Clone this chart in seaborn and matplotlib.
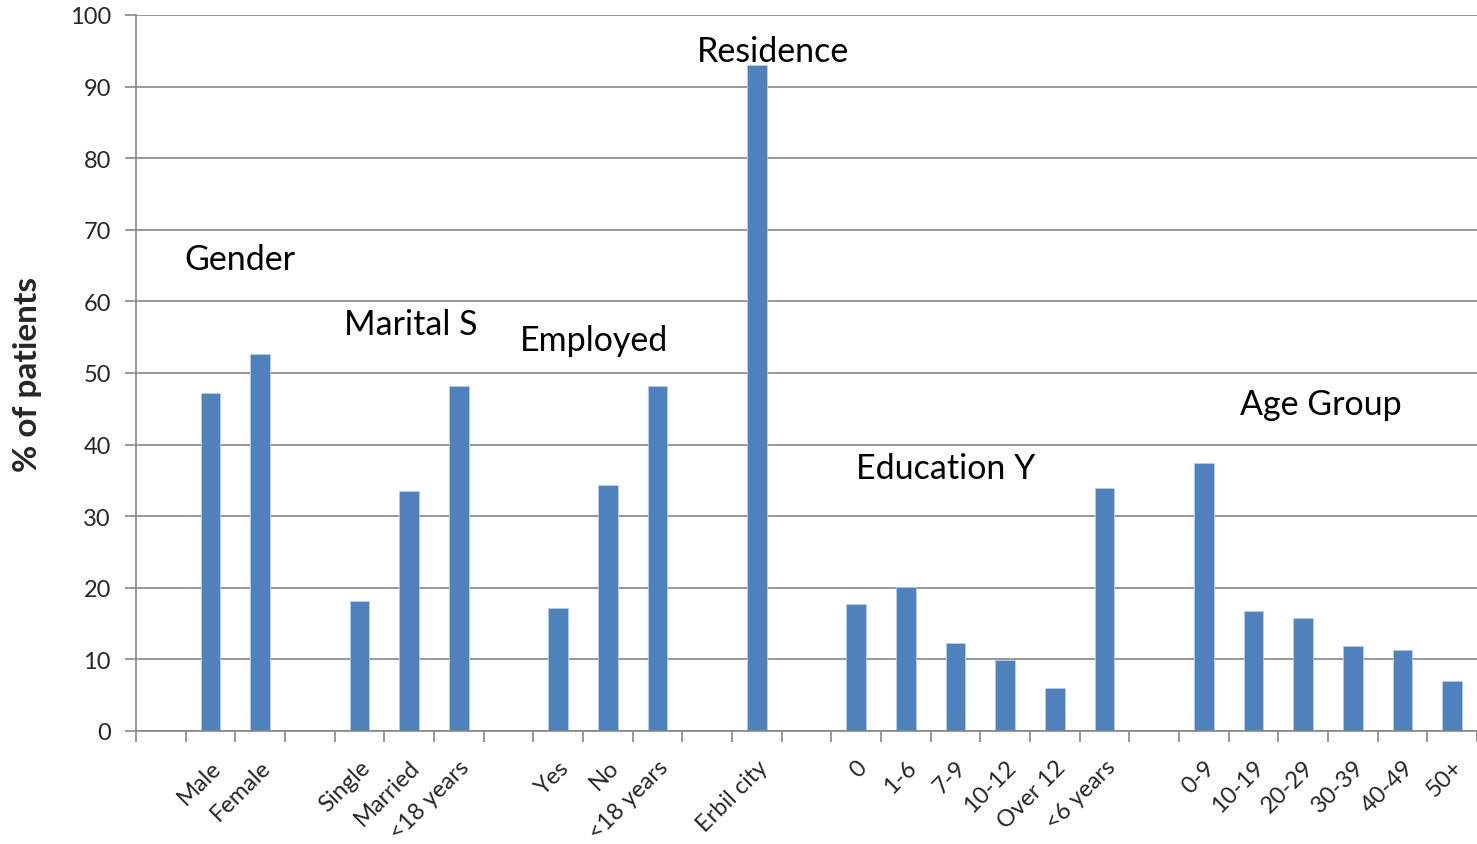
import matplotlib
matplotlib.use("Agg")
import matplotlib.pyplot as plt
import seaborn as sns
import pandas as pd
import numpy as np

# Groups of categories and their percentages
gender_labels = ["Male", "Female"]
gender_values = [47.2, 52.7]

marital_labels = ["Single", "Married", "<18 years"]
marital_values = [18.2, 33.5, 48.2]

employed_labels = ["Yes", "No", "<18 years"]
employed_values = [17.2, 34.4, 48.2]

residence_labels = ["Erbil city"]
residence_values = [93.0]

education_labels = ["0", "1-6", "7-9", "10-12", "Over 12", "<6 years"]
education_values = [17.7, 20.1, 12.3, 9.9, 6.0, 33.9]

age_labels = ["0-9", "10-19", "20-29", "30-39", "40-49", "50+"]
age_values = [37.4, 16.8, 15.8, 11.9, 11.3, 7.0]

group_titles = ["Gender", "Marital S", "Employed", "Residence", "Education Y", "Age Group"]

groups = [
    (gender_labels, gender_values),
    (marital_labels, marital_values),
    (employed_labels, employed_values),
    (residence_labels, residence_values),
    (education_labels, education_values),
    (age_labels, age_values),
]

# Build the slot order: an empty slot before each group
order, tick_text, rows = [], [], []
for gi, (labs, vals) in enumerate(groups):
    gap_key = f"gap{gi}"
    order.append(gap_key)
    tick_text.append("")
    for lab, val in zip(labs, vals):
        key = f"g{gi}_{lab}"
        order.append(key)
        tick_text.append(lab)
        rows.append({"slot": key, "pct": val})
df = pd.DataFrame(rows)

sns.set_theme(style="white")
plt.rcParams["font.family"] = ["Lato", "DejaVu Sans"]

fig = plt.figure(figsize=(14.77, 8.45), dpi=100)
ax = fig.add_axes([136 / 1477, 1 - 732 / 845, (1477 - 136) / 1477, (732 - 16) / 845])

sns.barplot(data=df, x="slot", y="pct", order=order, color="#4F81BD",
            saturation=1, width=0.4, edgecolor="#B9CDE5", linewidth=0.6,
            ax=ax, zorder=3)

n = len(order)
ax.set_xlim(-0.5, n - 0.5)
ax.set_ylim(0, 100)
ax.set_yticks(np.arange(0, 101, 10))
ax.yaxis.grid(True, color="#868686", linewidth=1.2, zorder=0)
ax.xaxis.grid(False)

# Category boundaries carry the tick marks, centers carry the labels
ax.set_xticks(np.arange(-0.5, n, 1.0))
ax.set_xticklabels([])
ax.set_xticks(np.arange(n), minor=True)
ax.set_xticklabels(tick_text, minor=True, rotation=45, ha="right",
                   rotation_mode="anchor", fontsize=17)
ax.tick_params(axis="x", which="major", length=8, width=1.2, color="#868686",
               direction="out", bottom=True)
ax.tick_params(axis="x", which="minor", length=0, pad=18)
ax.tick_params(axis="y", length=8, width=1.2, color="#868686", direction="out",
               left=True, labelsize=17, pad=10)

for side in ["top", "right"]:
    ax.spines[side].set_visible(False)
for side in ["left", "bottom"]:
    ax.spines[side].set_color("#868686")
    ax.spines[side].set_linewidth(1.2)
    ax.spines[side].set_zorder(4)

ax.set_xlabel("")
ax.set_ylabel("% of patients", fontsize=24, fontweight="bold", labelpad=20)

# Group titles
title_pos = [(0.47, 65.9), (3.69, 56.8), (7.23, 54.6), (10.79, 95.0),
             (14.0, 36.7), (21.73, 45.7)]
for title, (tx, ty) in zip(group_titles, title_pos):
    ax.text(tx, ty, title, fontsize=24.5, ha="left", va="center", color="black")

fig.savefig("out.png", dpi=100)
